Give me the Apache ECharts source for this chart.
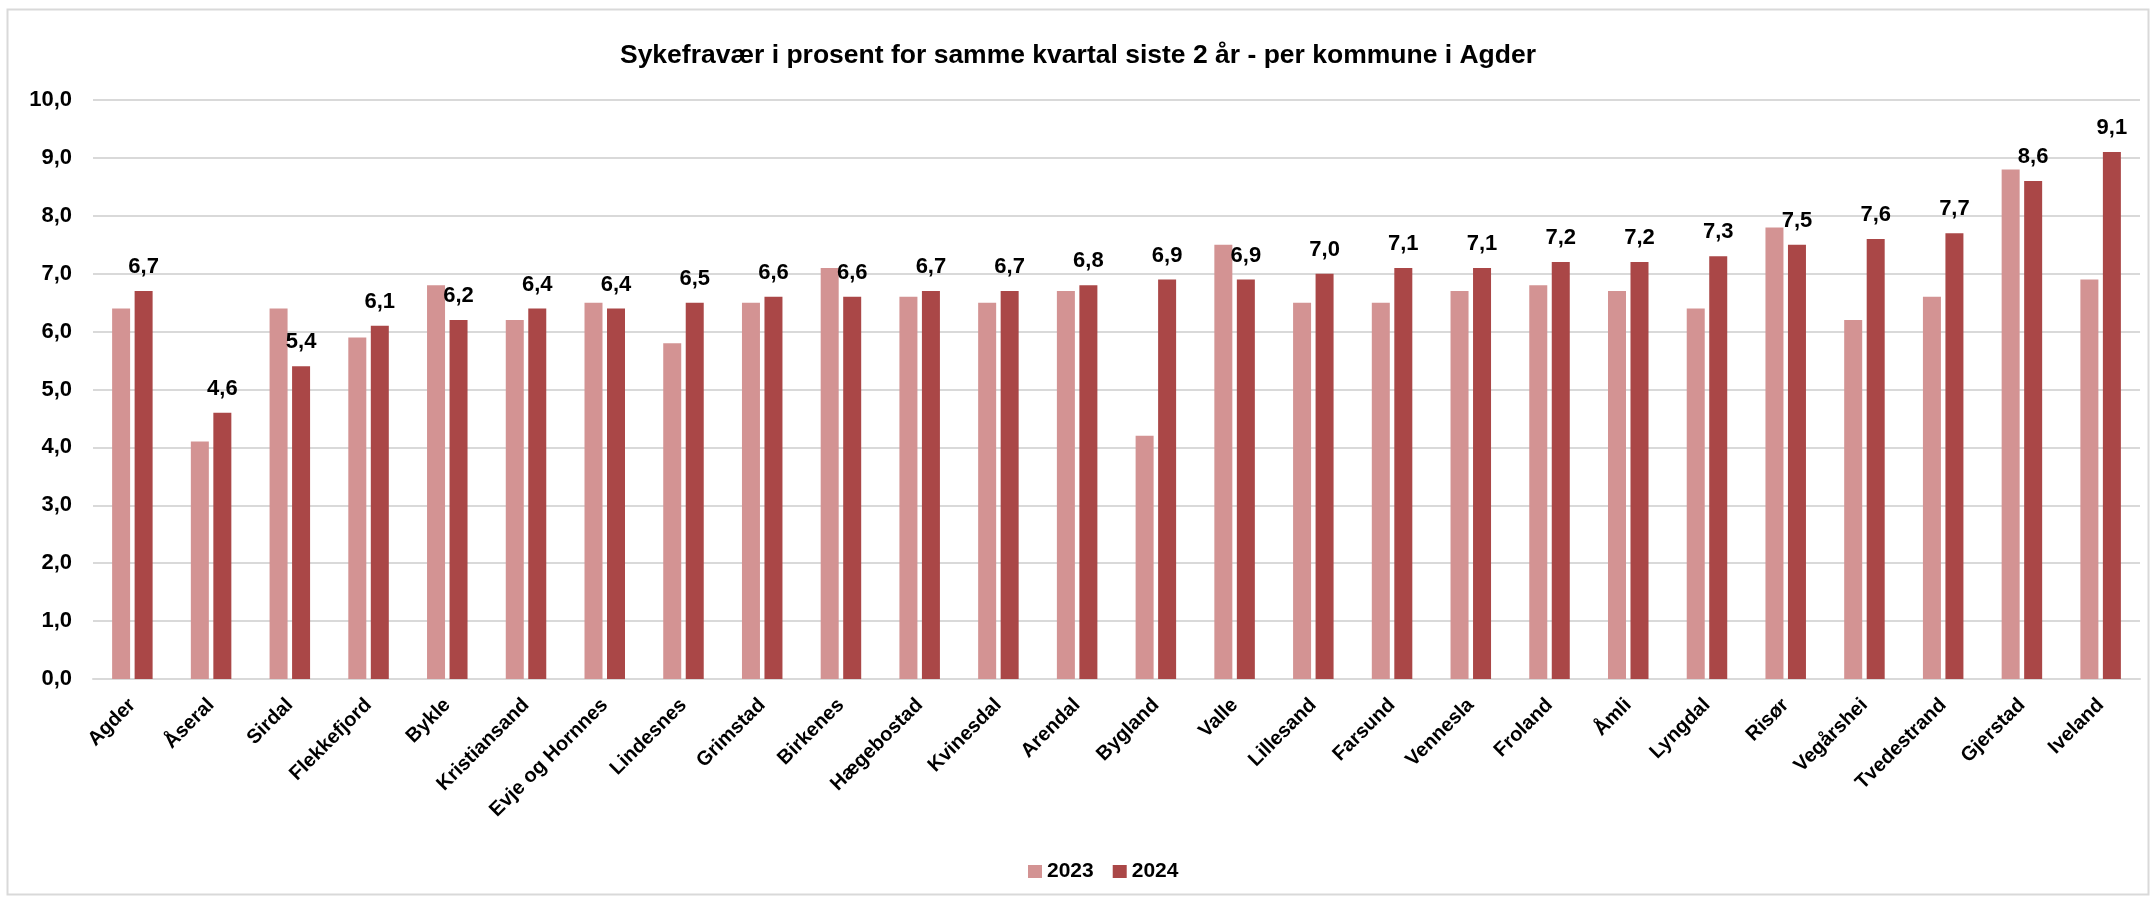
<!DOCTYPE html>
<html>
<head>
<meta charset="utf-8">
<script src="https://cdn.jsdelivr.net/npm/echarts@6/dist/echarts.min.js"></script>
<style>
html,body{margin:0;padding:0;background:#fff;}
#chart{width:2156px;height:903px;}
</style>
</head>
<body>
<div id="chart"></div>
<script>
const categories = ['Agder','Åseral','Sirdal','Flekkefjord','Bykle','Kristiansand','Evje og Hornnes','Lindesnes','Grimstad','Birkenes','Hægebostad','Kvinesdal','Arendal','Bygland','Valle','Lillesand','Farsund','Vennesla','Froland','Åmli','Lyngdal','Risør','Vegårshei','Tvedestrand','Gjerstad','Iveland'];
const values2023 = [6.4,4.1,6.4,5.9,6.8,6.2,6.5,5.8,6.5,7.1,6.6,6.5,6.7,4.2,7.5,6.5,6.5,6.7,6.8,6.7,6.4,7.8,6.2,6.6,8.8,6.9];
const values2024 = [6.7,4.6,5.4,6.1,6.2,6.4,6.4,6.5,6.6,6.6,6.7,6.7,6.8,6.9,6.9,7.0,7.1,7.1,7.2,7.2,7.3,7.5,7.6,7.7,8.6,9.1];
const seriesNames = ['2023','2024'];
const yTicks = {min:0, max:10, interval:1};

const FONT = "'Liberation Sans', Arial, sans-serif";
const fmt = v => Number(v).toFixed(1).replace('.', ',');

const chart = echarts.init(document.getElementById('chart'));
chart.setOption({
  animation:false,
  backgroundColor:'#fff',
  textStyle:{fontFamily:FONT},
  graphic:[{
    type:'rect', silent:true, z:-1,
    shape:{x:7.5,y:9.5,width:2141,height:885},
    style:{fill:'#fff', stroke:'#D9D9D9', lineWidth:2}
  }],
  title:{
    text:'Sykefravær i prosent for samme kvartal siste 2 år - per kommune i Agder',
    left:'center', top:37,
    textStyle:{fontFamily:FONT, fontSize:26.5, fontWeight:'bold', color:'#000'}
  },
  legend:{
    data:seriesNames, top:856, left:1023,
    itemWidth:14, itemHeight:13, itemGap:19,
    icon:'rect',
    textStyle:{fontFamily:FONT, fontSize:21, fontWeight:'bold', color:'#000'}
  },
  grid:{left:93, right:16, top:100, bottom:224, containLabel:false},
  xAxis:{
    type:'category', data:categories,
    axisLine:{show:true, lineStyle:{color:'#D9D9D9', width:2}},
    axisTick:{show:false},
    axisLabel:{interval:0, rotate:45, margin:23, fontFamily:FONT, fontSize:20, fontWeight:'bold', color:'#000'}
  },
  yAxis:{
    type:'value', min:yTicks.min, max:yTicks.max, interval:yTicks.interval,
    axisLine:{show:false}, axisTick:{show:false},
    splitLine:{lineStyle:{color:'#D9D9D9', width:2}},
    axisLabel:{formatter:fmt, margin:21, fontFamily:FONT, fontSize:22, fontWeight:'bold', color:'#000'}
  },
  series:[
    {name:seriesNames[0], type:'bar', data:values2023, barWidth:18, barGap:'25%',
     itemStyle:{color:'#D39393'}},
    {name:seriesNames[1], type:'bar', data:values2024, barWidth:18, barGap:'25%',
     itemStyle:{color:'#AA4747'},
     label:{show:true, position:'top', distance:13, formatter:p=>fmt(p.value),
            fontFamily:FONT, fontSize:22, fontWeight:'bold', color:'#000'}}
  ]
});
</script>
</body>
</html>
